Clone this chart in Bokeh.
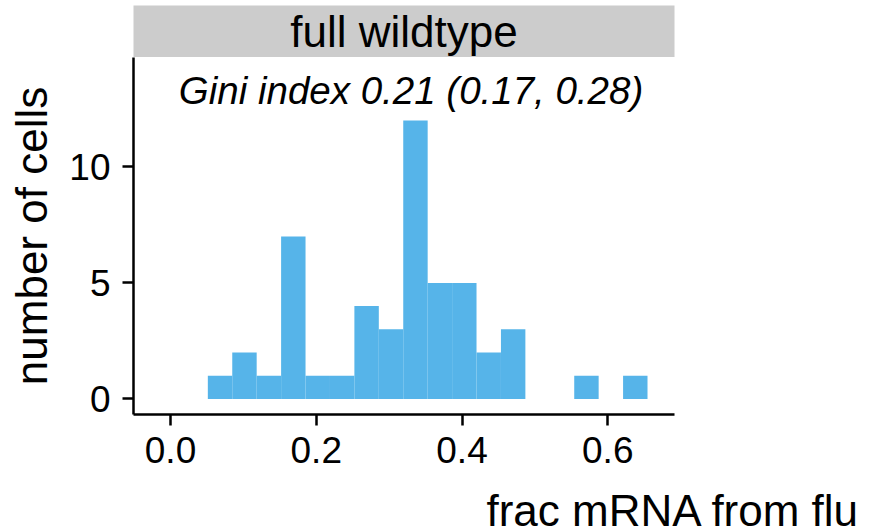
import numpy as np
from bokeh.plotting import figure
from bokeh.layouts import column
from bokeh.models import (Label, FixedTicker, NumeralTickFormatter, Range1d, Title)
from bokeh.embed import file_html
from bokeh.resources import INLINE

# ---- data ----
panel_title = "full wildtype"
gini_text = "Gini index 0.21 (0.17, 0.28)"
x_title = "frac mRNA from flu"
y_title = "number of cells"
bin_start = 0.0512
bin_width = 0.03352
counts = [1, 2, 1, 7, 1, 1, 4, 3, 12, 5, 5, 2, 3, 0, 0, 1, 0, 1]
x_ticks = [0.0, 0.2, 0.4, 0.6]
y_ticks = [0, 5, 10]

edges = bin_start + bin_width * np.arange(len(counts) + 1)
left = edges[:-1]
right = edges[1:]
counts_arr = np.array(counts, dtype=float)
mask = counts_arr > 0

FONT = "Liberation Sans"
W = 876
TOTAL_H = 532
BORDER_L = 133
BORDER_R = 202
STRIP_H = 57
FRAME_H = 357
MAIN_BOTTOM = 64
MAIN_H = FRAME_H + MAIN_BOTTOM
XLAB_H = TOTAL_H - STRIP_H - MAIN_H

x0, x1 = -0.0508, 0.6916
y0, y1 = -0.67, 14.71

# ---- strip figure ----
s = figure(width=W, height=STRIP_H, output_backend="svg", toolbar_location=None,
           x_range=Range1d(x0, x1), y_range=Range1d(0, 1),
           x_axis_location=None, y_axis_location=None,
           min_border_left=BORDER_L, min_border_right=BORDER_R,
           min_border_top=5, min_border_bottom=0)
s.grid.visible = False
s.outline_line_color = None
s.background_fill_color = "#cccccc"
s.border_fill_color = "white"
s.add_layout(Label(x=(x0 + x1) / 2, y=0.5, text=panel_title,
                   text_align="center", text_baseline="middle",
                   text_font=FONT, text_font_size="44px", text_color="black"))

# ---- main figure ----
p = figure(width=W, height=MAIN_H, output_backend="svg", toolbar_location=None,
           x_range=Range1d(x0, x1), y_range=Range1d(y0, y1),
           min_border_left=BORDER_L, min_border_right=BORDER_R, min_border_top=0,
           min_border_bottom=MAIN_BOTTOM)
p.outline_line_color = None
p.xgrid.visible = False
p.ygrid.visible = False
p.background_fill_color = "white"
p.border_fill_color = "white"

p.quad(left=left[mask], right=right[mask], bottom=0, top=counts_arr[mask],
       fill_color="#56B4E9", line_color=None)

p.add_layout(Label(x=0.33, y=13.3, text=gini_text,
                   text_align="center", text_baseline="middle",
                   text_font=FONT, text_font_size="38.5px", text_font_style="italic",
                   text_color="black"))

for ax in (p.xaxis[0], p.yaxis[0]):
    ax.axis_line_width = 2.5
    ax.axis_line_color = "black"
    ax.major_tick_line_width = 2.5
    ax.major_tick_line_color = "black"
    ax.major_tick_out = 11
    ax.major_tick_in = 0
    ax.minor_tick_line_color = None
    ax.major_label_text_font = FONT
    ax.major_label_text_font_size = "37px"
    ax.major_label_text_color = "black"
    ax.major_label_standoff = 11

p.xaxis[0].ticker = FixedTicker(ticks=x_ticks)
p.xaxis[0].formatter = NumeralTickFormatter(format="0.0")
p.yaxis[0].ticker = FixedTicker(ticks=y_ticks)
p.yaxis[0].formatter = NumeralTickFormatter(format="0")
p.yaxis[0].major_label_standoff = 12

p.yaxis[0].axis_label = y_title
p.yaxis[0].axis_label_text_font = FONT
p.yaxis[0].axis_label_text_font_size = "44px"
p.yaxis[0].axis_label_text_font_style = "normal"
p.yaxis[0].axis_label_text_color = "black"
p.yaxis[0].axis_label_standoff = 10

# ---- x-axis title row ----
xl = figure(width=W, height=XLAB_H, output_backend="svg", toolbar_location=None,
            x_range=Range1d(x0, x1), y_range=Range1d(0, 1),
            x_axis_location=None, y_axis_location=None,
            min_border_left=BORDER_L, min_border_right=BORDER_R,
            min_border_top=0, min_border_bottom=0)
xl.grid.visible = False
xl.outline_line_color = None
xl.background_fill_color = "white"
xl.border_fill_color = "white"
xl.add_layout(Title(text=x_title, align="right", offset=-186, standoff=-4,
                    vertical_align="bottom", text_font=FONT,
                    text_font_size="44px", text_font_style="normal",
                    text_color="black"), "below")

layout = column(s, p, xl, spacing=0)
open("out.html", "w").write(file_html(layout, INLINE))
